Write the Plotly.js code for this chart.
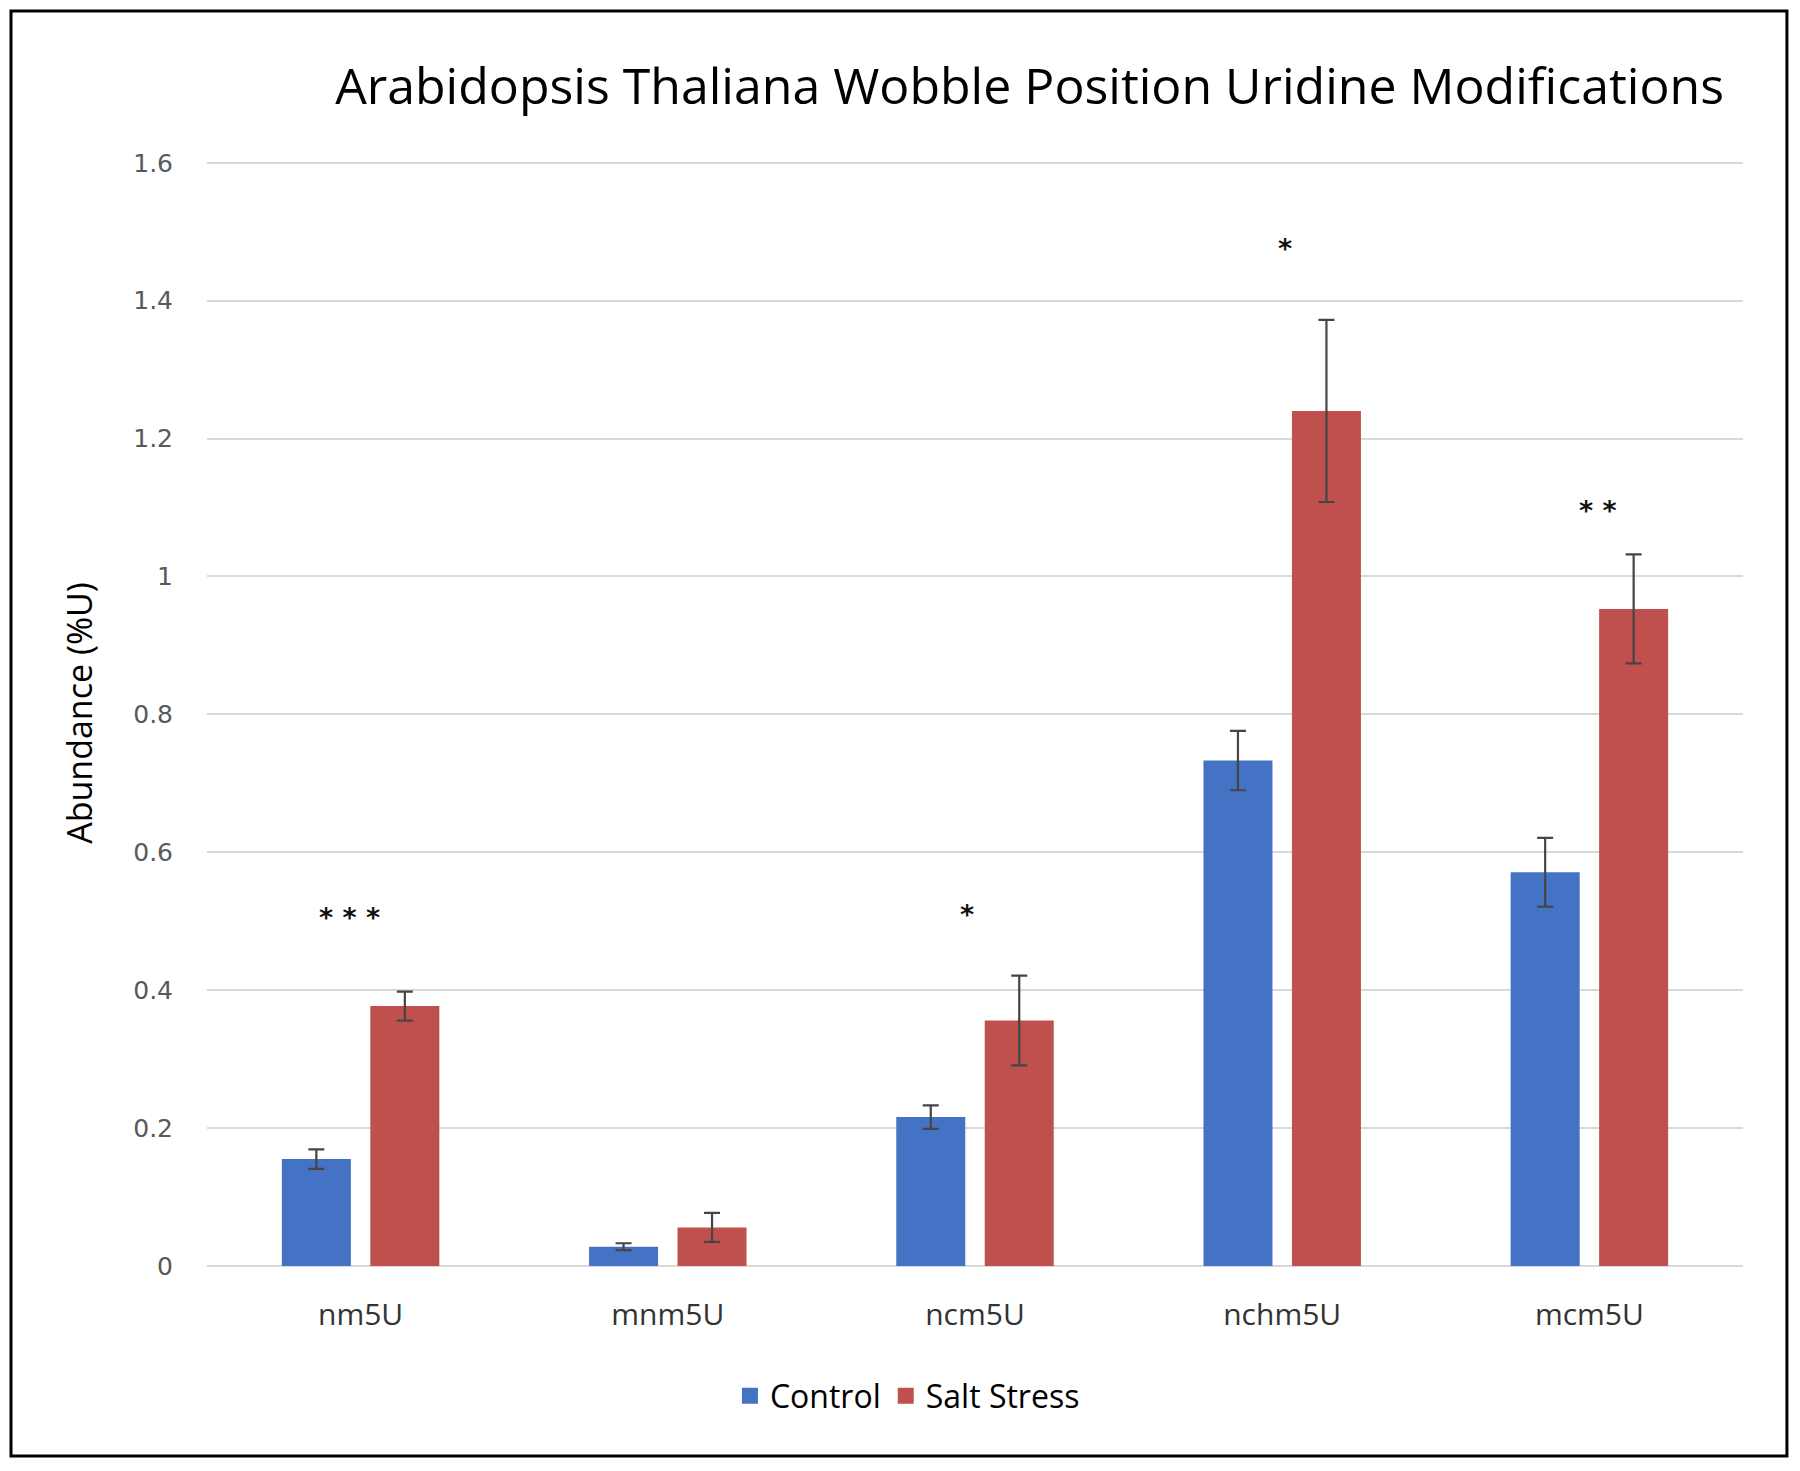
<!DOCTYPE html>
<html>
<head>
<meta charset="utf-8">
<script src="https://cdn.plot.ly/plotly-3.0.1.min.js"></script>
<style>
html,body{margin:0;padding:0;background:#fff;}
#chart{width:1800px;height:1471px;}
</style>
</head>
<body>
<div id="chart"></div>
<script>
const categories = ["nm5U", "mnm5U", "ncm5U", "nchm5U", "mcm5U"];
const controlValues = [0.155, 0.028, 0.216, 0.733, 0.571];
const controlErrors = [0.014, 0.005, 0.017, 0.043, 0.050];
const saltValues = [0.377, 0.056, 0.356, 1.240, 0.953];
const saltErrors = [0.021, 0.021, 0.065, 0.132, 0.079];
const sigLabels = ["* * *", "", "*", "*", "* *"];
const sigY = [0.505, null, 0.51, 1.475, 1.095];
const sigShift = [-11, 0, -8, 3, 9];
const yTicks = [0, 0.2, 0.4, 0.6, 0.8, 1, 1.2, 1.4, 1.6];
const seriesNames = ["Control", "Salt Stress"];
const seriesColors = ["#4472C4", "#C0504D"];

const errStyle = {type: "data", visible: true, color: "#454545", thickness: 2.2, width: 8};

const traces = [
  {
    type: "bar", name: seriesNames[0], x: categories, y: controlValues,
    marker: {color: seriesColors[0]}, showlegend: false,
    error_y: Object.assign({array: controlErrors}, errStyle)
  },
  {
    type: "bar", name: seriesNames[1], x: categories, y: saltValues,
    marker: {color: seriesColors[1]}, showlegend: false,
    error_y: Object.assign({array: saltErrors}, errStyle)
  }
];
// legend entries with larger square swatches
seriesNames.forEach((n, i) => {
  traces.push({
    type: "scatter", mode: "markers", name: n, x: [null], y: [null],
    marker: {symbol: "square", size: 16, color: seriesColors[i]},
    showlegend: true, hoverinfo: "skip"
  });
});

const annotations = [];
categories.forEach((c, i) => {
  if (sigLabels[i]) {
    annotations.push({
      x: c, y: sigY[i], xref: "x", yref: "y", text: "<b>" + sigLabels[i] + "</b>",
      xshift: sigShift[i],
      showarrow: false, font: {family: "DejaVu Sans, sans-serif", size: 27, color: "#111"},
      yanchor: "middle", xanchor: "center"
    });
  }
});

const layout = {
  width: 1800, height: 1471,
  margin: {l: 207, r: 57, t: 160, b: 205},
  paper_bgcolor: "#ffffff", plot_bgcolor: "#ffffff",
  font: {family: "Open Sans, sans-serif"},
  title: {
    text: "Arabidopsis Thaliana Wobble Position Uridine Modifications",
    font: {family: "Open Sans, sans-serif", size: 50, color: "#000"},
    xref: "container", yref: "container", x: 0.572, y: 0.9415,
    xanchor: "center", yanchor: "middle"
  },
  barmode: "group",
  bargap: 0.424, bargroupgap: 0.22,
  xaxis: {
    showgrid: false, showline: false, ticks: "",
    tickfont: {family: "Open Sans, sans-serif", size: 30, color: "#333"},
    ticklabelstandoff: 28
  },
  yaxis: {
    range: [0, 1.604], tickvals: yTicks, ticks: "",
    showgrid: true, gridcolor: "#d9d9d9", gridwidth: 2,
    zeroline: true, zerolinecolor: "#d9d9d9", zerolinewidth: 2,
    showline: false,
    tickfont: {family: "DejaVu Sans, sans-serif", size: 25, color: "#595959"},
    ticklabelstandoff: 33,
    title: {text: "Abundance (%U)", font: {family: "Open Sans, sans-serif", size: 34, color: "#000"}, standoff: 30}
  },
  showlegend: true,
  legend: {
    orientation: "h", x: 0.456, y: -0.1175, xanchor: "center", yanchor: "middle",
    font: {family: "Open Sans, sans-serif", size: 32, color: "#000"},
    itemsizing: "trace", traceorder: "normal", itemwidth: 30
  },
  annotations: annotations,
  shapes: [{
    type: "rect", xref: "paper", yref: "paper",
    x0: -0.1276, x1: 1.0286, y0: -0.1718, y1: 1.1347,
    line: {color: "#000", width: 3}, fillcolor: "rgba(0,0,0,0)", layer: "above"
  }]
};

Plotly.newPlot("chart", traces, layout, {displayModeBar: false, staticPlot: true});
</script>
</body>
</html>
